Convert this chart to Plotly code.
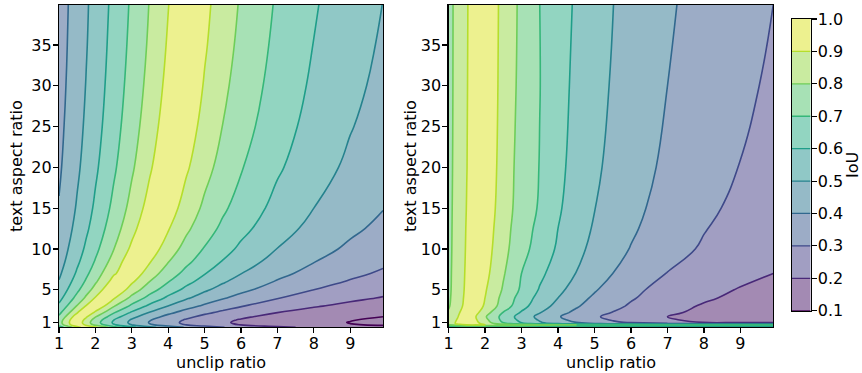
import plotly.graph_objects as go

# ---------------- data ----------------
unclip_ratio = [1.0, 1.25, 1.5, 1.75, 2.0, 2.5, 3.0, 3.5, 4.0, 4.5, 5.0, 5.5, 6.0, 7.0, 8.0, 9.0, 9.9]
aspect_ratio_left = [0.4, 0.7, 0.85, 1.0, 1.3, 1.7, 2.2, 3, 4, 5, 6, 7, 8.5, 10, 12.5, 15, 20, 25, 30, 35, 40]
aspect_ratio_right = [0.4, 0.7, 0.85, 1.0, 1.3, 1.7, 2.2, 3, 4, 5, 7, 10, 12.5, 15, 20, 30, 40]

iou_left = [
    [0.652, 0.752, 0.858, 0.970, 0.920, 0.748, 0.622, 0.526, 0.451, 0.391, 0.343, 0.303, 0.270, 0.219, 0.181, 0.152, 0.132],
    [0.737, 0.862, 0.997, 0.877, 0.773, 0.614, 0.499, 0.415, 0.350, 0.299, 0.258, 0.226, 0.199, 0.158, 0.128, 0.106, 0.091],
    [0.753, 0.883, 0.978, 0.852, 0.749, 0.593, 0.481, 0.398, 0.334, 0.285, 0.246, 0.214, 0.189, 0.149, 0.121, 0.100, 0.085],
    [0.757, 0.888, 0.971, 0.846, 0.743, 0.587, 0.476, 0.393, 0.330, 0.281, 0.243, 0.211, 0.186, 0.147, 0.119, 0.098, 0.084],
    [0.746, 0.874, 0.988, 0.862, 0.759, 0.602, 0.489, 0.405, 0.341, 0.291, 0.251, 0.219, 0.193, 0.153, 0.124, 0.103, 0.088],
    [0.716, 0.834, 0.961, 0.913, 0.807, 0.645, 0.528, 0.440, 0.372, 0.320, 0.277, 0.243, 0.215, 0.171, 0.140, 0.116, 0.100],
    [0.674, 0.781, 0.894, 0.987, 0.878, 0.709, 0.586, 0.493, 0.421, 0.364, 0.318, 0.280, 0.249, 0.200, 0.165, 0.138, 0.119],
    [0.619, 0.711, 0.808, 0.908, 0.987, 0.809, 0.677, 0.577, 0.498, 0.435, 0.384, 0.341, 0.305, 0.249, 0.208, 0.176, 0.153],
    [0.568, 0.649, 0.732, 0.819, 0.908, 0.914, 0.774, 0.666, 0.581, 0.512, 0.456, 0.409, 0.369, 0.305, 0.258, 0.221, 0.194],
    [0.532, 0.605, 0.680, 0.758, 0.837, 0.999, 0.852, 0.739, 0.649, 0.576, 0.515, 0.465, 0.422, 0.353, 0.300, 0.260, 0.230],
    [0.505, 0.573, 0.643, 0.714, 0.786, 0.936, 0.916, 0.798, 0.704, 0.627, 0.564, 0.511, 0.465, 0.392, 0.337, 0.293, 0.260],
    [0.484, 0.548, 0.614, 0.681, 0.749, 0.888, 0.969, 0.847, 0.750, 0.671, 0.605, 0.549, 0.502, 0.426, 0.367, 0.321, 0.287],
    [0.460, 0.520, 0.582, 0.644, 0.707, 0.835, 0.967, 0.907, 0.806, 0.723, 0.654, 0.596, 0.546, 0.466, 0.404, 0.355, 0.319],
    [0.442, 0.500, 0.558, 0.617, 0.676, 0.797, 0.921, 0.955, 0.850, 0.764, 0.693, 0.633, 0.582, 0.498, 0.434, 0.383, 0.345],
    [0.421, 0.475, 0.530, 0.585, 0.640, 0.753, 0.868, 0.984, 0.907, 0.818, 0.743, 0.680, 0.627, 0.540, 0.472, 0.418, 0.378],
    [0.406, 0.458, 0.510, 0.563, 0.616, 0.723, 0.832, 0.942, 0.949, 0.857, 0.781, 0.716, 0.660, 0.570, 0.500, 0.444, 0.403],
    [0.386, 0.435, 0.484, 0.534, 0.584, 0.684, 0.786, 0.888, 0.991, 0.913, 0.833, 0.765, 0.707, 0.613, 0.540, 0.481, 0.438],
    [0.374, 0.421, 0.469, 0.516, 0.564, 0.660, 0.758, 0.855, 0.954, 0.950, 0.867, 0.798, 0.738, 0.641, 0.566, 0.505, 0.461],
    [0.365, 0.411, 0.458, 0.504, 0.551, 0.644, 0.739, 0.833, 0.929, 0.976, 0.892, 0.821, 0.760, 0.661, 0.584, 0.523, 0.477],
    [0.359, 0.404, 0.450, 0.495, 0.541, 0.633, 0.725, 0.817, 0.911, 0.996, 0.911, 0.839, 0.777, 0.676, 0.598, 0.536, 0.489],
    [0.354, 0.399, 0.444, 0.489, 0.534, 0.624, 0.715, 0.806, 0.897, 0.989, 0.925, 0.852, 0.790, 0.688, 0.609, 0.545, 0.499],
]

iou_right = [
    [0.55, 0.56, 0.57, 0.57, 0.57, 0.56, 0.56, 0.55, 0.55, 0.55, 0.54, 0.54, 0.54, 0.53, 0.53, 0.53, 0.53],
    [0.80, 0.86, 0.90, 0.91, 0.90, 0.88, 0.86, 0.84, 0.82, 0.80, 0.78, 0.77, 0.76, 0.74, 0.73, 0.72, 0.71],
    [0.84, 0.92, 0.97, 0.93, 0.87, 0.74, 0.64, 0.56, 0.50, 0.45, 0.41, 0.38, 0.36, 0.33, 0.31, 0.30, 0.30],
    [0.84, 0.92, 0.98, 0.92, 0.85, 0.69, 0.592, 0.51, 0.44, 0.40, 0.345, 0.315, 0.29, 0.235, 0.197, 0.192, 0.19],
    [0.83, 0.91, 0.985, 0.91, 0.83, 0.672, 0.575, 0.49, 0.425, 0.375, 0.33, 0.293, 0.263, 0.21, 0.18, 0.16, 0.145],
    [0.82, 0.895, 0.992, 0.901, 0.811, 0.667, 0.558, 0.474, 0.408, 0.355, 0.312, 0.276, 0.246, 0.200, 0.165, 0.139, 0.120],
    [0.81, 0.885, 0.95, 0.925, 0.845, 0.695, 0.59, 0.505, 0.43, 0.38, 0.33, 0.297, 0.27, 0.215, 0.18, 0.155, 0.135],
    [0.79, 0.86, 0.935, 0.96, 0.885, 0.755, 0.635, 0.542, 0.471, 0.41, 0.361, 0.323, 0.289, 0.23, 0.192, 0.164, 0.145],
    [0.783, 0.855, 0.925, 0.97, 0.90, 0.77, 0.66, 0.568, 0.50, 0.436, 0.385, 0.343, 0.309, 0.251, 0.211, 0.182, 0.162],
    [0.78, 0.85, 0.92, 0.975, 0.91, 0.79, 0.685, 0.592, 0.523, 0.462, 0.409, 0.361, 0.323, 0.265, 0.224, 0.195, 0.173],
    [0.778, 0.847, 0.915, 0.97, 0.93, 0.81, 0.70, 0.622, 0.553, 0.498, 0.443, 0.40, 0.359, 0.2975, 0.255, 0.223, 0.20],
    [0.776, 0.842, 0.91, 0.97, 0.945, 0.832, 0.73, 0.662, 0.586, 0.526, 0.475, 0.432, 0.396, 0.332, 0.29, 0.254, 0.228],
    [0.775, 0.84, 0.907, 0.968, 0.955, 0.841, 0.743, 0.675, 0.60, 0.54, 0.491, 0.448, 0.413, 0.351, 0.304, 0.268, 0.241],
    [0.774, 0.838, 0.903, 0.965, 0.965, 0.85, 0.755, 0.69, 0.613, 0.552, 0.502, 0.46, 0.425, 0.364, 0.317, 0.281, 0.254],
    [0.772, 0.835, 0.898, 0.958, 0.975, 0.858, 0.76, 0.697, 0.625, 0.566, 0.517, 0.476, 0.44, 0.382, 0.335, 0.298, 0.271],
    [0.77, 0.832, 0.895, 0.953, 0.985, 0.865, 0.773, 0.702, 0.635, 0.579, 0.532, 0.492, 0.457, 0.40, 0.353, 0.316, 0.288],
    [0.77, 0.83, 0.893, 0.95, 0.985, 0.87, 0.778, 0.70, 0.643, 0.588, 0.541, 0.5015, 0.4675, 0.412, 0.366, 0.328, 0.30],
]

levels = [0.1, 0.2, 0.3, 0.4, 0.5, 0.6, 0.7, 0.8, 0.9, 1.0]
x_ticks = [1, 2, 3, 4, 5, 6, 7, 8, 9]
y_ticks = [1, 5, 10, 15, 20, 25, 30, 35]
x_title = "unclip ratio"
y_title = "text aspect ratio"
cbar_title = "IoU"

# ---------------- styling ----------------
W, H = 862, 373
FONT = "DejaVu Sans"
FS = 16

viridis = ["#440154", "#482878", "#3e4989", "#31688e", "#26828e",
           "#1f9e89", "#35b779", "#6ece58", "#b5de2b", "#fde725"]
band_fill = ["rgb(163,136,176)",
             "rgb(163,138,179)", "rgb(161,158,194)", "rgb(156,172,198)",
             "rgb(149,186,199)", "rgb(144,200,198)", "rgb(146,213,193)",
             "rgb(167,225,181)", "rgb(201,235,160)", "rgb(237,241,143)",
             "rgb(250,243,146)"]
fill_scale = [[i / 10, c] for i, c in enumerate(band_fill)]

lv0, lv1 = levels[0], levels[-1]
step = round(levels[1] - levels[0], 10)
contours_fill = dict(start=lv0, end=lv1, size=step, coloring="fill", showlines=False)
contours_line = dict(start=lv0, end=lv1, size=step, coloring="lines")


def px_x(p):
    return p / W


def px_y(p):
    return 1 - p / H


fig = go.Figure()

panels = [("x", "y", aspect_ratio_left, iou_left),
          ("x2", "y2", aspect_ratio_right, iou_right)]
for xa, ya, yy, z in panels:
    fig.add_trace(go.Contour(x=unclip_ratio, y=yy, z=z, xaxis=xa, yaxis=ya,
                             autocontour=False, contours=contours_fill,
                             colorscale=fill_scale, showscale=False,
                             line=dict(width=0, smoothing=1.3), hoverinfo="skip"))
    fig.add_trace(go.Contour(x=unclip_ratio, y=yy, z=z, xaxis=xa, yaxis=ya,
                             autocontour=False, contours=contours_line,
                             colorscale=[[k / 9, c] for k, c in enumerate(viridis)],
                             showscale=False, line=dict(width=1.6, smoothing=1.3),
                             hoverinfo="skip"))

bands_mid = [[round((levels[k] + levels[k + 1]) / 2, 3)] for k in range(len(levels) - 1)]
cb_scale = []
for k in range(len(levels) - 1):
    cb_scale.append([k / 9, band_fill[k + 1]])
    cb_scale.append([(k + 1) / 9, band_fill[k + 1]])
fig.add_trace(go.Heatmap(x=[0, 1], y=levels, z=bands_mid, xaxis="x3", yaxis="y3",
                         colorscale=cb_scale, zmin=lv0, zmax=lv1, showscale=False,
                         hoverinfo="skip"))
for k, lv in enumerate(levels[:-1]):
    fig.add_shape(type="line", xref="x3", yref="y3", x0=0, x1=1, y0=lv, y1=lv,
                  line=dict(color=viridis[k], width=1.3))

axis_common = dict(showline=True, mirror=True, linecolor="black", linewidth=1.1,
                   ticks="outside", ticklen=5, tickwidth=1.1, tickcolor="black",
                   showgrid=False, zeroline=False, automargin=False,
                   tickfont=dict(family=FONT, size=FS, color="black"))

left_x = [59, 383]
right_x = [448.5, 773.3]
plot_y = [327.3, 5]

fig.update_layout(
    width=W, height=H, margin=dict(l=0, r=0, t=0, b=0, pad=0, autoexpand=False),
    paper_bgcolor="white", plot_bgcolor="white", showlegend=False,
    xaxis=dict(domain=[px_x(left_x[0]), px_x(left_x[1])], range=[1, 9.9],
               tickvals=x_ticks, anchor="y", ticklabelstandoff=-4, **axis_common),
    yaxis=dict(domain=[px_y(plot_y[0]), px_y(plot_y[1])], range=[0.4, 39.9],
               tickvals=y_ticks, anchor="x", ticklabelstandoff=-2, **axis_common),
    xaxis2=dict(domain=[px_x(right_x[0]), px_x(right_x[1])], range=[1, 9.9],
                tickvals=x_ticks, anchor="y2", ticklabelstandoff=-4, **axis_common),
    yaxis2=dict(domain=[px_y(plot_y[0]), px_y(plot_y[1])], range=[0.4, 39.9],
                tickvals=y_ticks, anchor="x2", ticklabelstandoff=-2, **axis_common),
    xaxis3=dict(domain=[px_x(792), px_x(810.5)], range=[0, 1], anchor="y3",
                showline=True, mirror=True, linecolor="black", linewidth=1.1,
                showticklabels=False, ticks="", showgrid=False, zeroline=False,
                automargin=False),
    yaxis3=dict(domain=[px_y(310.7), px_y(19)], range=[lv0, lv1], anchor="x3",
                side="right", tickvals=levels, tickformat=".1f",
                ticklabelstandoff=-2, **axis_common),
    font=dict(family=FONT, size=FS, color="black"),
)

annots = [
    dict(x=px_x(sum(left_x) / 2), y=px_y(362), text=x_title),
    dict(x=px_x(sum(right_x) / 2), y=px_y(362), text=x_title),
    dict(x=px_x(16), y=px_y(166), text=y_title, textangle=-90),
    dict(x=px_x(410), y=px_y(166), text=y_title, textangle=-90),
    dict(x=px_x(852), y=px_y(165), text=cbar_title, textangle=-90),
]
for a in annots:
    fig.add_annotation(xref="paper", yref="paper", showarrow=False,
                       xanchor="center", yanchor="middle",
                       font=dict(family=FONT, size=FS, color="black"), **a)

fig.write_html(
    "out.html",
    config={"displayModeBar": False, "staticPlot": True},
    post_script="document.body.style.margin='0';document.body.style.padding='0';"
                "document.documentElement.style.overflow='hidden';",
)
